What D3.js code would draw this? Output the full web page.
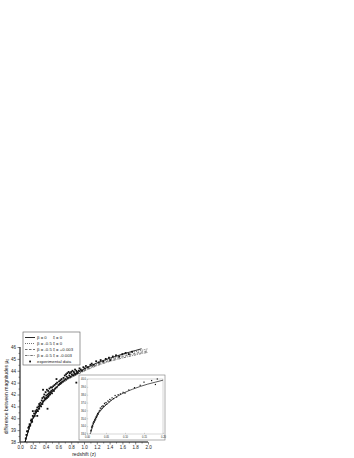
<!DOCTYPE html>
<html>
<head>
<meta charset="utf-8">
<script src="https://cdn.jsdelivr.net/npm/d3@7"></script>
<style>
  body { margin: 0; background: #fff; }
  svg text { font-family: "Liberation Sans", Arial, sans-serif; fill: #222; }
</style>
</head>
<body>
<div id="chart"></div>
<script>
"use strict";

// model curves (redshift, magnitude difference)
const zModel = [0.08, 0.1, 0.12, 0.15, 0.2, 0.25, 0.3, 0.4, 0.5, 0.6, 0.7, 0.8, 0.9, 1.0, 1.2, 1.4, 1.6, 1.8, 1.9, 2.0];
const muSolid  = [38.0, 38.4, 38.75, 39.25, 39.95, 40.45, 40.9, 41.65, 42.25, 42.75, 43.2, 43.55, 43.85, 44.15, 44.65, 45.05, 45.4, 45.7, 45.85, null];
const muDotted = [38.0, 38.4, 38.75, 39.25, 39.95, 40.45, 40.9, 41.65, 42.25, 42.75, 43.18, 43.52, 43.82, 44.1, 44.58, 44.97, 45.3, 45.6, 45.72, 45.85];
const muDashed = [38.0, 38.4, 38.75, 39.25, 39.95, 40.45, 40.9, 41.64, 42.23, 42.72, 43.14, 43.47, 43.76, 44.03, 44.5, 44.87, 45.18, 45.45, 45.57, 45.68];
const muDashDot = [38.0, 38.4, 38.75, 39.25, 39.95, 40.45, 40.9, 41.63, 42.21, 42.7, 43.1, 43.42, 43.7, 43.96, 44.42, 44.78, 45.07, 45.33, 45.45, 45.55];

// experimental points, main panel
const dataZ = [0.09, 0.1, 0.11, 0.12, 0.13, 0.14, 0.15, 0.16, 0.17, 0.18, 0.19, 0.2, 0.21, 0.22, 0.23, 0.24, 0.25, 0.26, 0.27, 0.28,
  0.29, 0.3, 0.3, 0.31, 0.32, 0.33, 0.34, 0.35, 0.35, 0.36, 0.37, 0.38, 0.38, 0.39, 0.4, 0.4, 0.41, 0.42, 0.42, 0.43,
  0.44, 0.44, 0.45, 0.45, 0.46, 0.47, 0.47, 0.48, 0.49, 0.5, 0.5, 0.51, 0.52, 0.53, 0.54, 0.55, 0.56, 0.57, 0.58, 0.6,
  0.61, 0.62, 0.63, 0.64, 0.65, 0.66, 0.68, 0.69, 0.7, 0.71, 0.72, 0.73, 0.74, 0.75, 0.76, 0.77, 0.78, 0.79, 0.8, 0.81,
  0.82, 0.83, 0.84, 0.85, 0.86, 0.87, 0.88, 0.89, 0.9, 0.92, 0.93, 0.95, 0.97, 0.99, 1.01, 1.03, 1.06, 1.1, 1.12, 1.15,
  1.19, 1.23, 1.26, 1.3, 1.34, 1.39, 1.41, 1.45, 1.5, 1.55, 1.6, 1.65, 1.7, 1.75, 0.43, 0.88, 0.36, 0.27, 0.57, 0.2];
const dataMu = [38.3, 38.6, 38.9, 38.9, 39.2, 39.3, 39.5, 39.4, 39.8, 39.9, 39.7, 40.2, 40.1, 40.4, 40.2, 40.6, 40.5, 40.7, 40.9, 40.6,
  41.0, 40.8, 41.2, 41.1, 41.3, 41.0, 41.5, 41.2, 41.7, 41.4, 41.8, 41.5, 42.0, 41.7, 41.6, 42.2, 41.9, 42.4, 41.7, 42.0,
  41.8, 42.3, 42.1, 41.9, 42.5, 42.2, 42.0, 42.6, 42.3, 42.1, 42.6, 42.4, 42.7, 42.3, 42.8, 42.5, 42.9, 42.6, 43.0, 42.8,
  43.1, 42.9, 43.2, 43.0, 43.3, 43.1, 43.4, 43.2, 43.6, 43.3, 43.7, 43.5, 43.8, 43.4, 43.9, 43.6, 43.8, 43.5, 43.9, 43.7,
  44.0, 43.6, 43.9, 43.8, 44.1, 43.7, 44.0, 43.9, 43.8, 44.0, 44.2, 44.1, 44.0, 44.3, 44.2, 44.4, 44.3, 44.5, 44.6, 44.5,
  44.8, 44.7, 44.9, 44.8, 45.0, 45.1, 44.9, 45.2, 45.3, 45.2, 45.4, 45.5, 45.4, 45.6, 40.8, 43.0, 42.4, 40.2, 43.3, 40.6];

// inset: low redshift part
const insetZModel = [0.008, 0.01, 0.015, 0.02, 0.025, 0.03, 0.04, 0.05, 0.06, 0.07, 0.08, 0.1, 0.12, 0.14, 0.16, 0.18, 0.2];
const insetMuModel = [33.0, 33.2, 34.1, 34.7, 35.2, 35.6, 36.2, 36.7, 37.1, 37.5, 37.8, 38.3, 38.7, 39.05, 39.35, 39.6, 39.85];
const insetDataZ = [0.01, 0.011, 0.012, 0.013, 0.014, 0.015, 0.016, 0.017, 0.018, 0.019, 0.02, 0.021, 0.022, 0.023, 0.024, 0.025,
  0.026, 0.027, 0.028, 0.029, 0.03, 0.032, 0.034, 0.035, 0.037, 0.039, 0.04, 0.042, 0.044, 0.046, 0.048, 0.05, 0.052, 0.055,
  0.058, 0.06, 0.063, 0.066, 0.07, 0.074, 0.078, 0.082, 0.088, 0.095, 0.1, 0.11, 0.125, 0.14, 0.15, 0.17, 0.18, 0.185];
const insetDataMu = [33.4, 33.5, 33.9, 33.8, 34.1, 34.0, 34.4, 34.3, 34.6, 34.5, 34.8, 34.7, 35.0, 34.9, 35.2, 35.1,
  35.4, 35.3, 35.6, 35.5, 35.7, 35.9, 36.0, 36.3, 36.2, 36.5, 36.3, 36.6, 36.5, 36.9, 36.7, 37.0, 36.8, 37.2,
  37.1, 37.4, 37.3, 37.6, 37.5, 37.9, 37.7, 38.0, 38.1, 38.3, 38.2, 38.6, 38.9, 39.2, 39.6, 39.8, 39.3, 40.0];

const xTicks = [0, 0.2, 0.4, 0.6, 0.8, 1.0, 1.2, 1.4, 1.6, 1.8, 2.0];
const yTicks = [38, 39, 40, 41, 42, 43, 44, 45, 46];
const insetXTicks = [0, 0.05, 0.1, 0.15, 0.2];
const insetYTicks = [33, 34, 35, 36, 37, 38, 39, 40];

const legendRows = [
  { beta: "β = 0", xi: "ξ = 0", dash: null },
  { beta: "β = -0.5", xi: "ξ = 0", dash: "1,1" },
  { beta: "β = -0.5", xi: "ξ = +0.003", dash: "2.5,1.5" },
  { beta: "β = -0.5", xi: "ξ = -0.003", dash: "2.5,1,0.8,1" }
];

const W = 354, H = 458;
const svg = d3.select("#chart").append("svg").attr("width", W).attr("height", H);

// main panel scales
const x = d3.scaleLinear().domain([0, 2.0]).range([20, 148]);
const y = d3.scaleLinear().domain([38, 46]).range([442, 347]);

const axisColor = "#333";

// X axis
const gx = svg.append("g").attr("transform", `translate(0,${y(38)})`);
gx.call(d3.axisBottom(x).tickValues(xTicks).tickFormat(d3.format(".1f")).tickSize(2.5).tickPadding(1.5));
gx.append("g").call(d3.axisBottom(x).tickValues(d3.range(0.1, 2.0, 0.2)).tickSize(1.5).tickFormat(""));
// Y axis
const gy = svg.append("g").attr("transform", `translate(${x(0)},0)`);
gy.call(d3.axisLeft(y).tickValues(yTicks).tickSize(2.5).tickPadding(1.5));
gy.append("g").call(d3.axisLeft(y).tickValues(d3.range(38.5, 46, 1)).tickSize(1.5).tickFormat(""));
svg.selectAll(".domain").attr("stroke", axisColor).attr("stroke-width", 0.8);
svg.selectAll(".tick line").attr("stroke", axisColor).attr("stroke-width", 0.6);
svg.selectAll(".tick text").style("font-size", "4.5px");
gx.selectAll(".domain").attr("d", `M${x(0)},0H${x(2.0)}`);
gy.selectAll(".domain").attr("d", `M0,${y(38)}V${y(46)}`);

// axis labels
svg.append("text")
  .attr("text-anchor", "middle")
  .attr("transform", `translate(8,${(y(38) + y(46)) / 2 + 2})rotate(-90)`)
  .style("font-size", "5px")
  .html('difference between magnitudes μ<tspan dy="1" style="font-size:3.5px">0</tspan>');
svg.append("text")
  .attr("text-anchor", "middle")
  .attr("x", 84).attr("y", 456)
  .style("font-size", "5px")
  .text("redshift (z)");

// model lines
const line = d3.line().defined(d => d[1] != null).x(d => x(d[0])).y(d => y(d[1])).curve(d3.curveMonotoneX);
const series = [muSolid, muDotted, muDashed, muDashDot];
series.forEach((mu, i) => {
  svg.append("path")
    .datum(zModel.map((z, j) => [z, mu[j]]))
    .attr("d", line)
    .attr("fill", "none")
    .attr("stroke", "#111")
    .attr("stroke-width", i == 0 ? 0.9 : 0.6)
    .attr("stroke-dasharray", legendRows[i].dash);
});

// experimental points
svg.append("g").selectAll("rect")
  .data(dataZ.map((z, i) => [z, dataMu[i]]))
  .enter().append("rect")
  .attr("x", d => x(d[0]) - 0.9)
  .attr("y", d => y(d[1]) - 0.9)
  .attr("width", 1.8).attr("height", 1.8)
  .attr("fill", "#111");

// legend
const lg = svg.append("g");
lg.append("rect").attr("x", 23).attr("y", 332).attr("width", 57).attr("height", 33)
  .attr("fill", "#fff").attr("stroke", "#555").attr("stroke-width", 0.6);
legendRows.forEach((r, i) => {
  const ly = 337.5 + i * 6;
  lg.append("line").attr("x1", 25).attr("x2", 35).attr("y1", ly).attr("y2", ly)
    .attr("stroke", "#111").attr("stroke-width", i == 0 ? 0.9 : 0.6)
    .attr("stroke-dasharray", r.dash);
  lg.append("text").attr("x", 37).attr("y", ly + 1.6).style("font-size", "4.3px").text(r.beta);
  lg.append("text").attr("x", 53).attr("y", ly + 1.6).style("font-size", "4.3px").text(r.xi);
});
lg.append("rect").attr("x", 29.2).attr("y", 337.5 + 24 - 0.9).attr("width", 1.8).attr("height", 1.8).attr("fill", "#111");
lg.append("text").attr("x", 37).attr("y", 337.5 + 24 + 1.6).style("font-size", "4.3px").text("experimental data");

// inset
const ig = svg.append("g");
ig.append("rect").attr("x", 79).attr("y", 375).attr("width", 86).attr("height", 65)
  .attr("fill", "#fff").attr("stroke", "#777").attr("stroke-width", 0.6);
const ix = d3.scaleLinear().domain([0, 0.2]).range([87, 163]);
const iy = d3.scaleLinear().domain([33, 40]).range([434, 379]);
ig.append("rect").attr("x", ix(0)).attr("y", iy(40)).attr("width", ix(0.2) - ix(0)).attr("height", iy(33) - iy(40))
  .attr("fill", "none").attr("stroke", "#999").attr("stroke-width", 0.4);
const igx = ig.append("g").attr("transform", `translate(0,${iy(33)})`)
  .call(d3.axisTop(ix).tickValues(insetXTicks).tickSize(1.2).tickFormat(d3.format(".2f")));
igx.selectAll(".tick text").attr("y", 3.5).attr("dy", "0").style("font-size", "2.6px").attr("fill", "#666");
const igy = ig.append("g").attr("transform", `translate(${ix(0)},0)`)
  .call(d3.axisRight(iy).tickValues(insetYTicks).tickSize(1.2).tickFormat(d3.format(".1f")));
igy.selectAll(".tick text").attr("x", -1).attr("text-anchor", "end").style("font-size", "2.6px").attr("fill", "#666");
ig.selectAll(".domain").remove();
ig.selectAll(".tick line").attr("stroke", "#999").attr("stroke-width", 0.4);

const iline = d3.line().x(d => ix(d[0])).y(d => iy(d[1])).curve(d3.curveMonotoneX);
ig.append("path")
  .datum(insetZModel.map((z, j) => [z, insetMuModel[j]]))
  .attr("d", iline)
  .attr("fill", "none").attr("stroke", "#111").attr("stroke-width", 0.7);
ig.append("g").selectAll("rect")
  .data(insetDataZ.map((z, i) => [z, insetDataMu[i]]))
  .enter().append("rect")
  .attr("x", d => ix(d[0]) - 0.6)
  .attr("y", d => iy(d[1]) - 0.6)
  .attr("width", 1.2).attr("height", 1.2)
  .attr("fill", "#111");
</script>
</body>
</html>
